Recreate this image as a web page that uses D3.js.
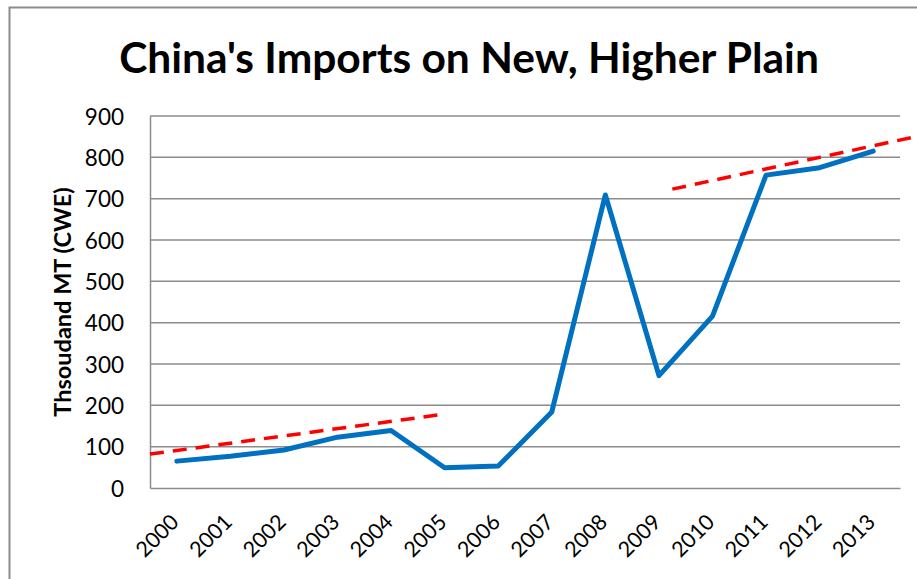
<!DOCTYPE html>
<html>
<head>
<meta charset="utf-8">
<script src="https://cdn.jsdelivr.net/npm/d3@7"></script>
<style>
  html, body { margin: 0; padding: 0; background: #fff; }
  svg { display: block; }
  text { font-family: Lato, "Open Sans", sans-serif; fill: #000; }
</style>
</head>
<body>
<svg id="chart" width="917" height="579"></svg>
<script>
// Annual imports, thousand MT carcass-weight equivalent
const years = ["2000","2001","2002","2003","2004","2005","2006","2007","2008","2009","2010","2011","2012","2013"];
const imports = [65, 77, 92, 123, 139, 49, 53, 184, 709, 272, 416, 757, 775, 815];

// Dashed guide lines: [category position, value] at each end
const trendEarly = [[-0.5, 82], [4.9, 177]];
const trendLate = [[9.25, 723], [13.9, 853]];

const yTicks = [0, 100, 200, 300, 400, 500, 600, 700, 800, 900];

const svg = d3.select("#chart");
const W = 917, H = 579;
const plot = { left: 150, right: 900, top: 116, bottom: 488 };

// Outer chart frame
svg.append("rect")
  .attr("x", 9.5).attr("y", 7.5)
  .attr("width", W + 20).attr("height", H + 20)
  .attr("fill", "none").attr("stroke", "#8c8c8c").attr("stroke-width", 2);

// Title
svg.append("text")
  .attr("x", 469).attr("y", 73)
  .attr("text-anchor", "middle")
  .style("font-weight", "bold").style("font-size", "42.5px")
  .text("China's Imports on New, Higher Plain");

const x = d3.scaleBand().domain(years).range([plot.left, plot.right]).padding(0);
const xc = i => plot.left + x.bandwidth() * (i + 0.5);
const y = d3.scaleLinear().domain([0, 900]).range([plot.bottom, plot.top]);

// Horizontal gridlines
svg.append("g")
  .selectAll("line")
  .data(yTicks.filter(t => t > 0))
  .join("line")
  .attr("x1", plot.left).attr("x2", plot.right)
  .attr("y1", d => y(d)).attr("y2", d => y(d))
  .attr("stroke", "#8c8c8c").attr("stroke-width", 1.5);

// Y axis
const yAxis = svg.append("g")
  .attr("transform", `translate(${plot.left},0)`)
  .call(d3.axisLeft(y).tickValues(yTicks).tickSize(0).tickPadding(26));
yAxis.select(".domain").attr("stroke", "#8c8c8c").attr("stroke-width", 1.5);
yAxis.selectAll("text").style("font-size", "22.5px").attr("fill", "#000").attr("dy", "0.36em");

// X axis
const xAxis = svg.append("g")
  .attr("transform", `translate(0,${plot.bottom})`)
  .call(d3.axisBottom(x).tickSize(0).tickPadding(0));
xAxis.select(".domain").attr("stroke", "#8c8c8c").attr("stroke-width", 1.5);
xAxis.selectAll("text")
  .style("font-size", "21.5px").attr("fill", "#000")
  .attr("text-anchor", "end")
  .attr("dy", "0.35em")
  .attr("transform", "translate(-2,30) rotate(-45)")
  .attr("y", 0).attr("x", 0);

// Y axis title
svg.append("text")
  .attr("transform", `translate(71,302) rotate(-90)`)
  .attr("text-anchor", "middle")
  .style("font-weight", "bold").style("font-size", "23.5px")
  .text("Thsoudand MT (CWE)");

// Dashed guide lines
const trendLine = d3.line().x(d => xc(d[0])).y(d => y(d[1]));
[trendEarly, trendLate].forEach(seg => {
  svg.append("path")
    .attr("d", trendLine(seg))
    .attr("fill", "none").attr("stroke", "#ff0000")
    .attr("stroke-width", 3.5).attr("stroke-dasharray", "14,9");
});

// Import series
const line = d3.line().x((d, i) => xc(i)).y(d => y(d));
svg.append("path")
  .datum(imports)
  .attr("d", line)
  .attr("fill", "none").attr("stroke", "#0070c0")
  .attr("stroke-width", 5).attr("stroke-linejoin", "round").attr("stroke-linecap", "round");
</script>
</body>
</html>
